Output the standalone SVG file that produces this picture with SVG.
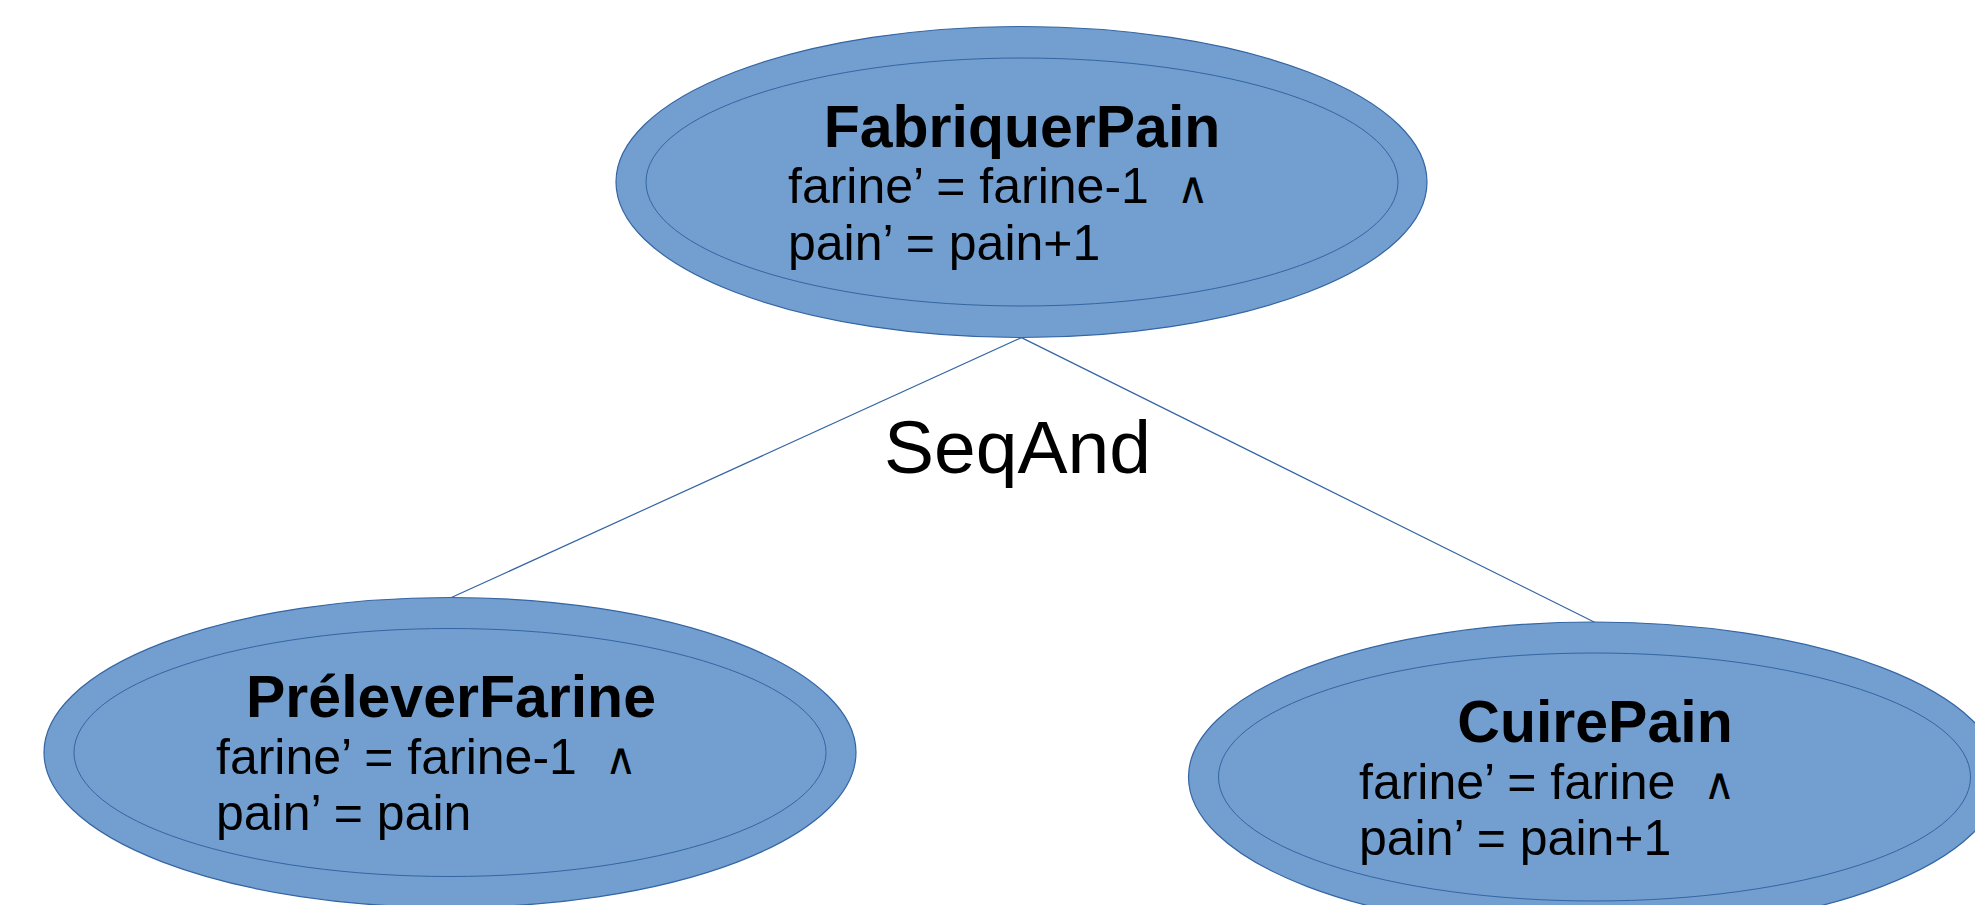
<svg xmlns="http://www.w3.org/2000/svg" width="1975" height="905" viewBox="0 0 1975 905">
<style>
.outer{fill:#729fcf;stroke:#3465a4;stroke-width:1.2}
.inner{fill:#729fcf;stroke:#3465a4;stroke-width:1}
.title{font-family:"Liberation Sans",Arial,sans-serif;font-weight:bold;font-size:59px;fill:#000;text-anchor:middle}
.body{font-family:"Liberation Sans",Arial,"DejaVu Sans",sans-serif;font-size:50px;fill:#000;white-space:pre}
.and{font-size:44px}
.edge{stroke:#3465a4;stroke-width:1.2;fill:none}
.lbl{font-family:"Liberation Sans",Arial,sans-serif;font-size:75px;fill:#000}
</style>
<rect width="1975" height="905" fill="#fff"/>
<g id="connectors">
<line class="edge" x1="1021.5" y1="337.6" x2="449.7" y2="598.3"/>
<line class="edge" x1="1021.5" y1="337.6" x2="1594.6" y2="622.2"/>
<text class="lbl" x="884" y="473">SeqAnd</text>
</g>
<g id="FabriquerPain">
<ellipse class="outer" cx="1021.5" cy="182" rx="405.5" ry="155.5"/>
<ellipse class="inner" cx="1022" cy="182" rx="376" ry="124"/>
<text class="title" x="1022" y="147">FabriquerPain</text>
<text class="body" x="788" y="203" xml:space="preserve">farine’ = farine-1  <tspan class="and">∧</tspan></text>
<text class="body" x="788" y="260">pain’ = pain+1</text>
</g>
<g id="PreleverFarine">
<ellipse class="outer" cx="450" cy="752.5" rx="406" ry="155"/>
<ellipse class="inner" cx="450" cy="752.5" rx="376" ry="124"/>
<text class="title" x="451" y="717">PréleverFarine</text>
<text class="body" x="216" y="774" xml:space="preserve">farine’ = farine-1  <tspan class="and">∧</tspan></text>
<text class="body" x="216" y="830">pain’ = pain</text>
</g>
<g id="CuirePain">
<ellipse class="outer" cx="1594.5" cy="777" rx="406" ry="155"/>
<ellipse class="inner" cx="1594.5" cy="777" rx="376" ry="124"/>
<text class="title" x="1595" y="742">CuirePain</text>
<text class="body" x="1359" y="799" xml:space="preserve">farine’ = farine  <tspan class="and">∧</tspan></text>
<text class="body" x="1359" y="855">pain’ = pain+1</text>
</g>
</svg>
